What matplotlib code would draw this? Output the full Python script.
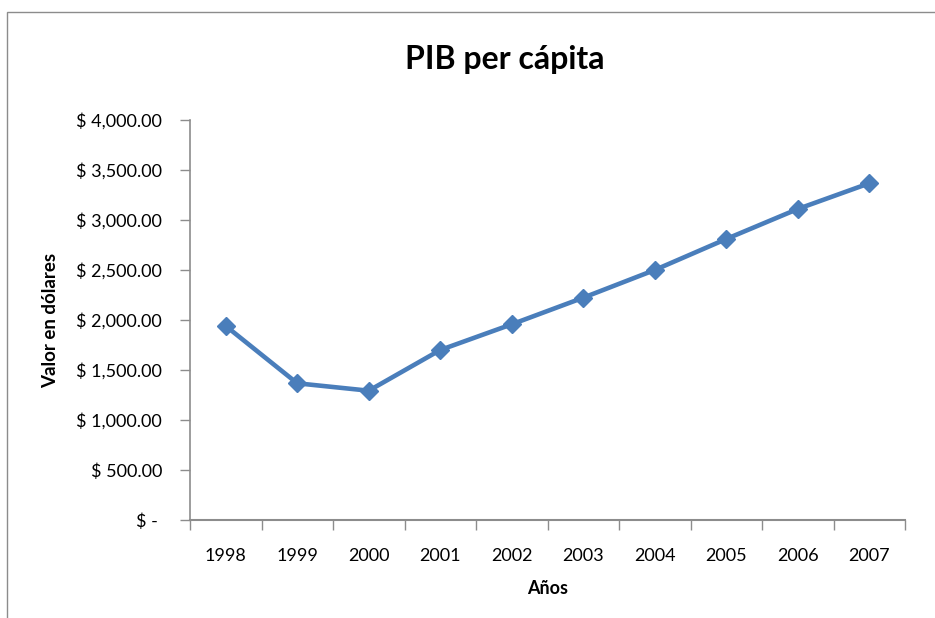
import matplotlib
matplotlib.use("Agg")
import matplotlib.pyplot as plt
from matplotlib.patches import Rectangle
from matplotlib.ticker import FixedLocator

years = ["1998", "1999", "2000", "2001", "2002", "2003", "2004", "2005", "2006", "2007"]
pib = [1940, 1367, 1293, 1700, 1957, 2223, 2500, 2810, 3110, 3367]
yticks = [0, 500, 1000, 1500, 2000, 2500, 3000, 3500, 4000]
ytick_labels = ["$ - ", "$ 500.00", "$ 1,000.00", "$ 1,500.00", "$ 2,000.00",
                "$ 2,500.00", "$ 3,000.00", "$ 3,500.00", "$ 4,000.00"]

plt.rcParams['font.family'] = ['Lato', 'DejaVu Sans']

W, H = 935, 618
fig = plt.figure(figsize=(W / 100, H / 100), dpi=100)
fig.patch.set_facecolor("white")

# outer chart frame
fig.add_artist(Rectangle((7 / W, -0.05), 1.2, (H - 12) / H + 0.05, transform=fig.transFigure,
                         fill=False, edgecolor="#8c8c8c", linewidth=1.0))

ax = fig.add_axes([190 / W, (H - 520) / H, (905 - 190) / W, 400 / H])
x = list(range(len(years)))
ax.plot(x, pib, color="#4a7ebb", linewidth=3.3, marker="D", markersize=9.5,
        markerfacecolor="#4a7ebb", markeredgecolor="#4a7ebb", solid_capstyle="round", clip_on=False)

ax.set_xlim(-0.5, len(years) - 0.5)
ax.set_ylim(0, 4000)

for s in ["top", "right"]:
    ax.spines[s].set_visible(False)
ax.spines["left"].set_color("#8c8c8c")
ax.spines["bottom"].set_color("#8c8c8c")
ax.spines["left"].set_linewidth(1.2)
ax.spines["bottom"].set_linewidth(1.5)

ax.set_yticks(yticks)
ax.set_yticklabels(ytick_labels, fontsize=13)
ax.tick_params(axis="y", direction="out", length=7, width=1, color="#8c8c8c", pad=13)

# x: major ticks at category boundaries, labels at centers
ax.xaxis.set_major_locator(FixedLocator([i - 0.5 for i in range(len(years) + 1)]))
ax.set_xticklabels([])
ax.xaxis.set_minor_locator(FixedLocator(x))
ax.set_xticklabels(years, minor=True, fontsize=13)
ax.tick_params(axis="x", which="major", direction="out", length=7, width=1, color="#8c8c8c")
ax.tick_params(axis="x", which="minor", length=0, pad=20)

ax.set_xlabel("Años", fontsize=13, fontweight="bold", labelpad=12)
ax.set_ylabel("Valor en dólares", fontsize=13.5, fontweight="bold", labelpad=12)
fig.text(505 / W, 1 - 60 / H, "PIB per cápita", fontsize=23, fontweight="bold",
         ha="center", va="center")

fig.savefig("out.png", dpi=100)
